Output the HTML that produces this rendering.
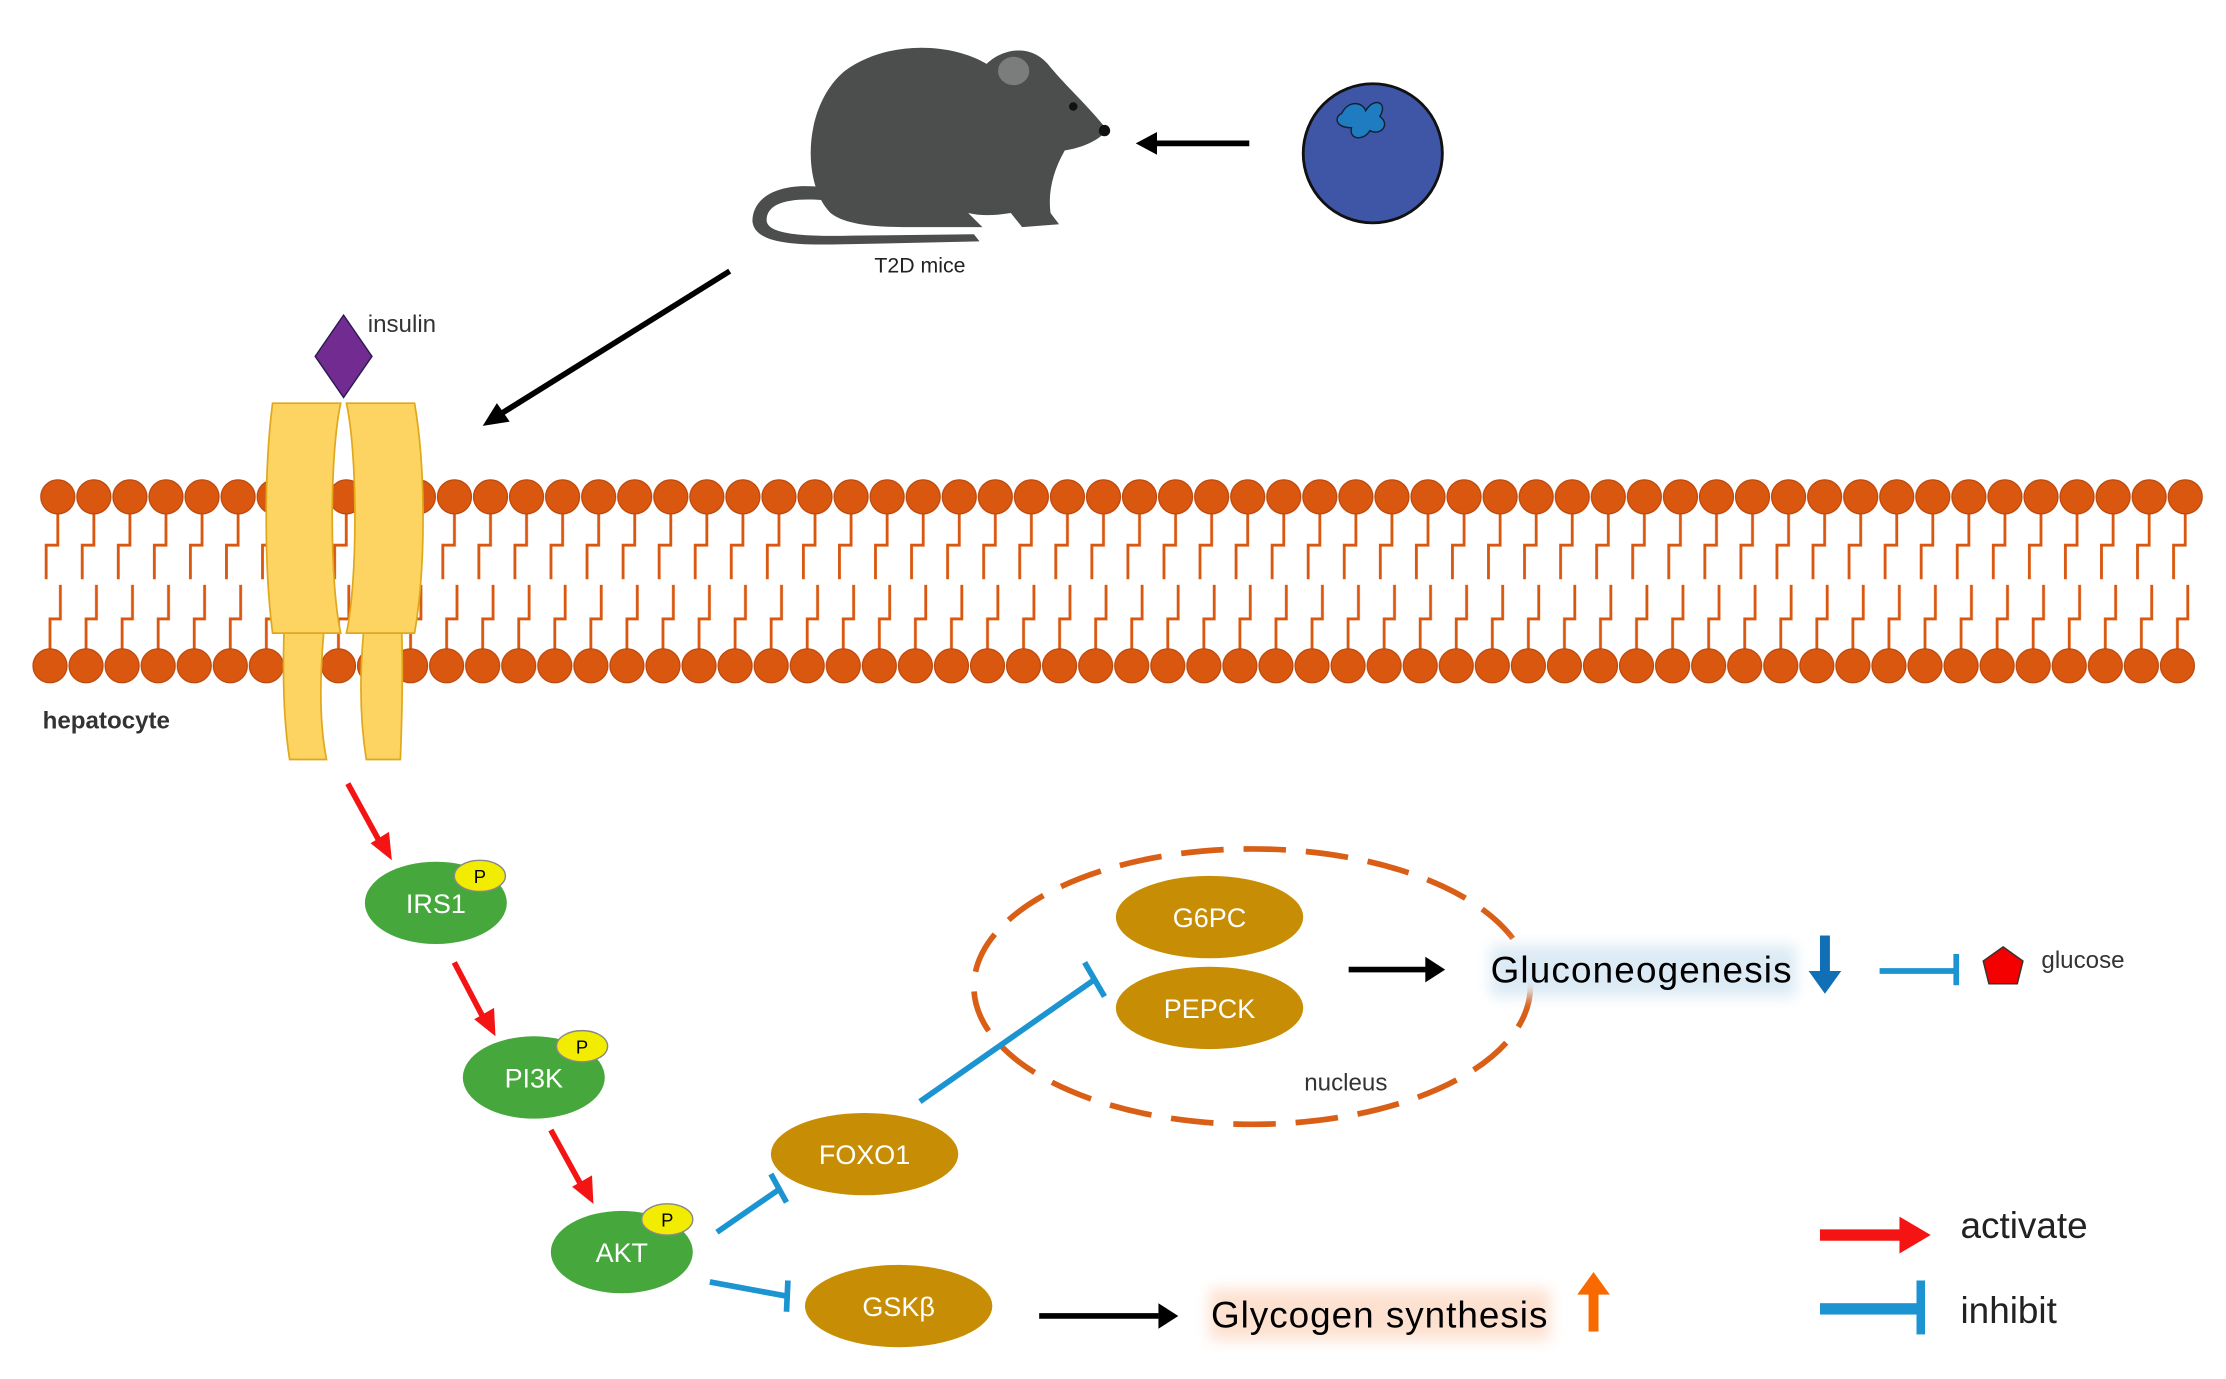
<!DOCTYPE html>
<html><head><meta charset="utf-8"><style>html,body{margin:0;padding:0;background:#fff}svg{display:block}</style></head>
<body>
<svg width="2226" height="1379" viewBox="0 0 1568 971.4" xmlns="http://www.w3.org/2000/svg" font-family="Liberation Sans, sans-serif">
<defs>
<pattern id="top" patternUnits="userSpaceOnUse" x="28" y="0" width="25.4" height="971">
<path d="M12.7,362 V384 H4.5 V408" fill="none" stroke="#d9570f" stroke-width="2"/>
<circle cx="12.7" cy="350" r="12" fill="#d9570f" stroke="#b8450a" stroke-width="0.8"/>
</pattern>
<pattern id="bot" patternUnits="userSpaceOnUse" x="22.5" y="0" width="25.4" height="971">
<path d="M12.7,457 V436 H20 V412" fill="none" stroke="#d9570f" stroke-width="2"/>
<circle cx="12.7" cy="469" r="12" fill="#d9570f" stroke="#b8450a" stroke-width="0.8"/>
</pattern>
<filter id="blur" x="-20%" y="-50%" width="140%" height="200%"><feGaussianBlur stdDeviation="5"/></filter>
</defs>

<!-- mouse -->
<g fill="#4b4e4d">
<path d="M585,150 C565,130 565,75 595,50 C625,28 670,30 695,45 C705,35 725,30 738,45 C750,60 770,78 780,92 C772,100 762,104 750,106 C742,120 738,135 740,150 L746,158 L720,160 L712,150 C700,152 690,152 682,150 L692,160 L640,160 C615,160 595,158 585,150 Z"/>
<path d="M580,132 C550,128 530,138 530,156 C532,172 560,173 600,172 L690,170 L686,165 L600,166 C560,167 540,164 540,155 C540,143 556,139 580,141 Z"/>
</g>
<ellipse cx="714" cy="50" rx="11" ry="10" fill="#7b7d7c"/>
<circle cx="756" cy="75" r="3" fill="#111"/>
<circle cx="778" cy="92" r="4" fill="#111"/>
<text x="648" y="192" font-size="15" text-anchor="middle" fill="#222">T2D mice</text>

<!-- berry -->
<circle cx="967" cy="108" r="49" fill="#3f55a5" stroke="#111" stroke-width="2"/>
<path d="M945,80 C950,70 960,72 962,78 C968,68 978,72 972,82 C980,88 972,96 965,92 C960,100 950,98 952,90 C940,90 940,82 945,80Z" fill="#1f7cc0" stroke="#123" stroke-width="1"/>
<line x1="880" y1="101" x2="812" y2="101" stroke="#000" stroke-width="4"/>
<path d="M800,101 L815,93 L815,109Z" fill="#000"/>
<line x1="514" y1="191" x2="352" y2="292" stroke="#000" stroke-width="4"/>
<path d="M340,300 L350,284 L359,297Z" fill="#000"/>

<!-- membrane -->
<rect x="28" y="330" width="1524" height="90" fill="url(#top)"/>
<rect x="22.5" y="405" width="1524" height="78" fill="url(#bot)"/>

<!-- receptor -->
<g fill="#fdd361" stroke="#e0a81c" stroke-width="1.2">
<path d="M200,446 H228 C225,480 225,510 230,535 H204 C200,510 199,480 200,446Z"/>
<path d="M256,446 H283 C284,480 283,510 282,535 H258 C254,510 253,480 256,446Z"/>
<path d="M192,284 H240 C232,320 232,410 240,446 H192 C186,400 186,330 192,284Z"/>
<path d="M244,284 H292 C300,330 300,400 292,446 H244 C252,410 252,320 244,284Z"/>
</g>
<path d="M242,222 L262,251 L242,280 L222,251Z" fill="#722b90" stroke="#2a1a50" stroke-width="1"/>
<text x="259" y="234" font-size="17" fill="#333">insulin</text>
<text x="30" y="513" font-size="17" font-weight="bold" fill="#333">hepatocyte</text>

<!-- red arrows -->
<g stroke="#f41414" stroke-width="4">
<line x1="245" y1="552" x2="268" y2="594"/>
<line x1="320" y1="678" x2="341" y2="718"/>
<line x1="388" y1="796" x2="410" y2="836"/>
</g>
<g fill="#f41414">
<path d="M276,606 L261,594 L274,586Z"/>
<path d="M349,730 L334,718 L348,710Z"/>
<path d="M418,848 L403,836 L417,828Z"/>
</g>

<g fill="#46a83c"><ellipse cx="307" cy="636" rx="50" ry="29"/><ellipse cx="376" cy="759" rx="50" ry="29"/><ellipse cx="438" cy="882" rx="50" ry="29"/></g>
<g fill="#f2ec00" stroke="#888" stroke-width="1"><ellipse cx="338" cy="617" rx="18" ry="11"/><ellipse cx="410" cy="737" rx="18" ry="11"/><ellipse cx="470" cy="859" rx="18" ry="11"/></g>
<g font-size="13" text-anchor="middle" fill="#000"><text x="338" y="622">P</text><text x="410" y="742">P</text><text x="470" y="864">P</text></g>
<g font-size="19" text-anchor="middle" fill="#fff"><text x="307" y="643">IRS1</text><text x="376" y="766">PI3K</text><text x="438" y="889">AKT</text></g>

<g fill="#c78e05"><ellipse cx="609" cy="813" rx="66" ry="29"/><ellipse cx="633" cy="920" rx="66" ry="29"/><ellipse cx="852" cy="646" rx="66" ry="29"/><ellipse cx="852" cy="710" rx="66" ry="29"/></g>
<g font-size="19" text-anchor="middle" fill="#fff"><text x="609" y="820">FOXO1</text><text x="633" y="927">GSKβ</text><text x="852" y="653">G6PC</text><text x="852" y="717">PEPCK</text></g>

<ellipse cx="882" cy="695" rx="196" ry="97" fill="none" stroke="#d95f17" stroke-width="4" stroke-dasharray="30,14"/>
<text x="948" y="768" font-size="17" text-anchor="middle" fill="#333">nucleus</text>

<g stroke="#1b94d1" stroke-width="4" fill="none">
<line x1="505" y1="868" x2="550" y2="837"/><line x1="543" y1="827" x2="554" y2="847"/>
<line x1="500" y1="903" x2="554" y2="913"/><line x1="555" y1="902" x2="554" y2="924"/>
<line x1="648" y1="776" x2="771" y2="690"/><line x1="764" y1="678" x2="778" y2="702"/>
<line x1="1324" y1="684" x2="1377" y2="684"/><line x1="1378" y1="672" x2="1378" y2="694"/>
</g>

<line x1="950" y1="683" x2="1006" y2="683" stroke="#000" stroke-width="4"/>
<path d="M1018,683 L1004,674 L1004,692Z" fill="#000"/>
<rect x="1050" y="666" width="215" height="36" fill="#dbeaf4" filter="url(#blur)"/>
<text x="1050" y="692" font-size="26" fill="#000" textLength="212">Gluconeogenesis</text>
<rect x="1282" y="659" width="7" height="26" fill="#1170b5"/>
<path d="M1274,684 L1297,684 L1285.5,700Z" fill="#1170b5"/>
<path d="M1411,667 L1425,677 L1421,693 L1401,693 L1397,677Z" fill="#f40000" stroke="#333" stroke-width="1"/>
<text x="1438" y="682" font-size="17" fill="#333">glucose</text>

<line x1="732" y1="927" x2="816" y2="927" stroke="#000" stroke-width="4"/>
<path d="M830,927 L816,918 L816,936Z" fill="#000"/>
<rect x="852" y="908" width="240" height="36" fill="#fde1d0" filter="url(#blur)"/>
<text x="853" y="935" font-size="26" fill="#000" textLength="237">Glycogen synthesis</text>
<rect x="1119" y="910" width="7" height="28" fill="#f86a00"/>
<path d="M1111,912 L1134,912 L1122.5,896Z" fill="#f86a00"/>

<rect x="1282" y="866" width="58" height="8" fill="#f41414"/>
<path d="M1360,870 L1338,857 L1338,883Z" fill="#f41414"/>
<text x="1381" y="872" font-size="26" fill="#222">activate</text>
<rect x="1282" y="918" width="72" height="8" fill="#1b94d1"/>
<rect x="1350" y="902" width="6" height="38" fill="#1b94d1"/>
<text x="1381" y="932" font-size="26" fill="#222">inhibit</text>
</svg>
</body></html>
